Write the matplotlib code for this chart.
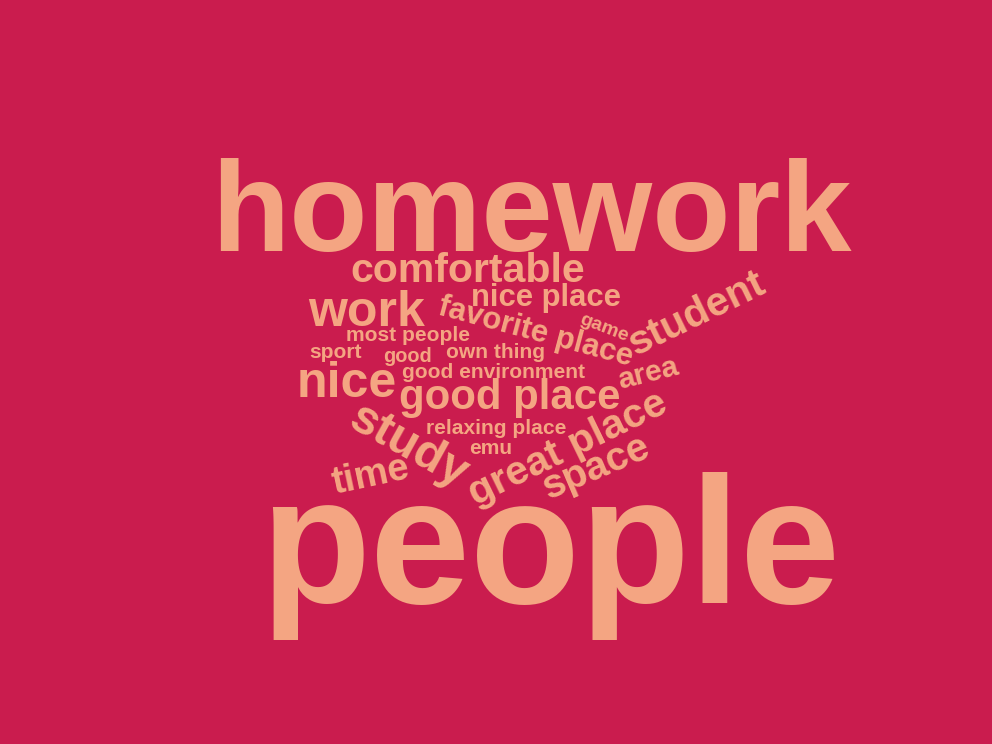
import matplotlib.pyplot as plt

# words and their relative weights (bigger weight -> bigger text)
words = ['people', 'homework', 'work', 'nice', 'study', 'good place', 'comfortable',
         'student', 'great place', 'space', 'time', 'nice place', 'favorite place',
         'area', 'most people', 'sport', 'own thing', 'good environment',
         'relaxing place', 'emu', 'good', 'game']
weights = [180, 128, 50, 50, 48, 42, 41,
           41, 41, 40, 38, 31, 31,
           30, 21, 21, 21, 21,
           21, 21, 20, 19.5]

# layout: baseline centre (pixels from top-left) and rotation for each word
layout = {
    'people': (550, 603, 0),
    'homework': (531, 251, 0),
    'work': (367, 326, 0),
    'nice': (347, 397, 0),
    'study': (402, 457, -29),
    'good place': (510, 409, 0),
    'comfortable': (468, 282, 0),
    'student': (702, 324, 26),
    'great place': (573, 458, 26),
    'space': (601, 478, 23),
    'time': (373, 486, 12),
    'nice place': (546, 306, 0),
    'favorite place': (533, 340, -15),
    'area': (650, 382, 14),
    'most people': (408, 341, 0),
    'sport': (336, 358, 0),
    'own thing': (495, 358, 0),
    'good environment': (494, 378, 0),
    'relaxing place': (496, 434, 0),
    'emu': (491, 454, 0),
    'good': (408, 362, 0),
    'game': (602, 332, -21),
}

bg = '#CA1C4E'
fg = '#F4A582'

fig = plt.figure(figsize=(9.92, 7.44), dpi=100, facecolor=bg)
ax = fig.add_axes([0, 0, 1, 1])
ax.set_facecolor(bg)
ax.set_xlim(0, 992)
ax.set_ylim(744, 0)
ax.axis('off')

for w, s in zip(words, weights):
    x, y, rot = layout[w]
    ax.text(x, y, w, fontsize=s * 0.72, color=fg, family='Liberation Sans',
            fontweight='bold', ha='center', va='baseline',
            rotation=rot, rotation_mode='anchor')

fig.savefig('out.png', dpi=100, facecolor=bg)
